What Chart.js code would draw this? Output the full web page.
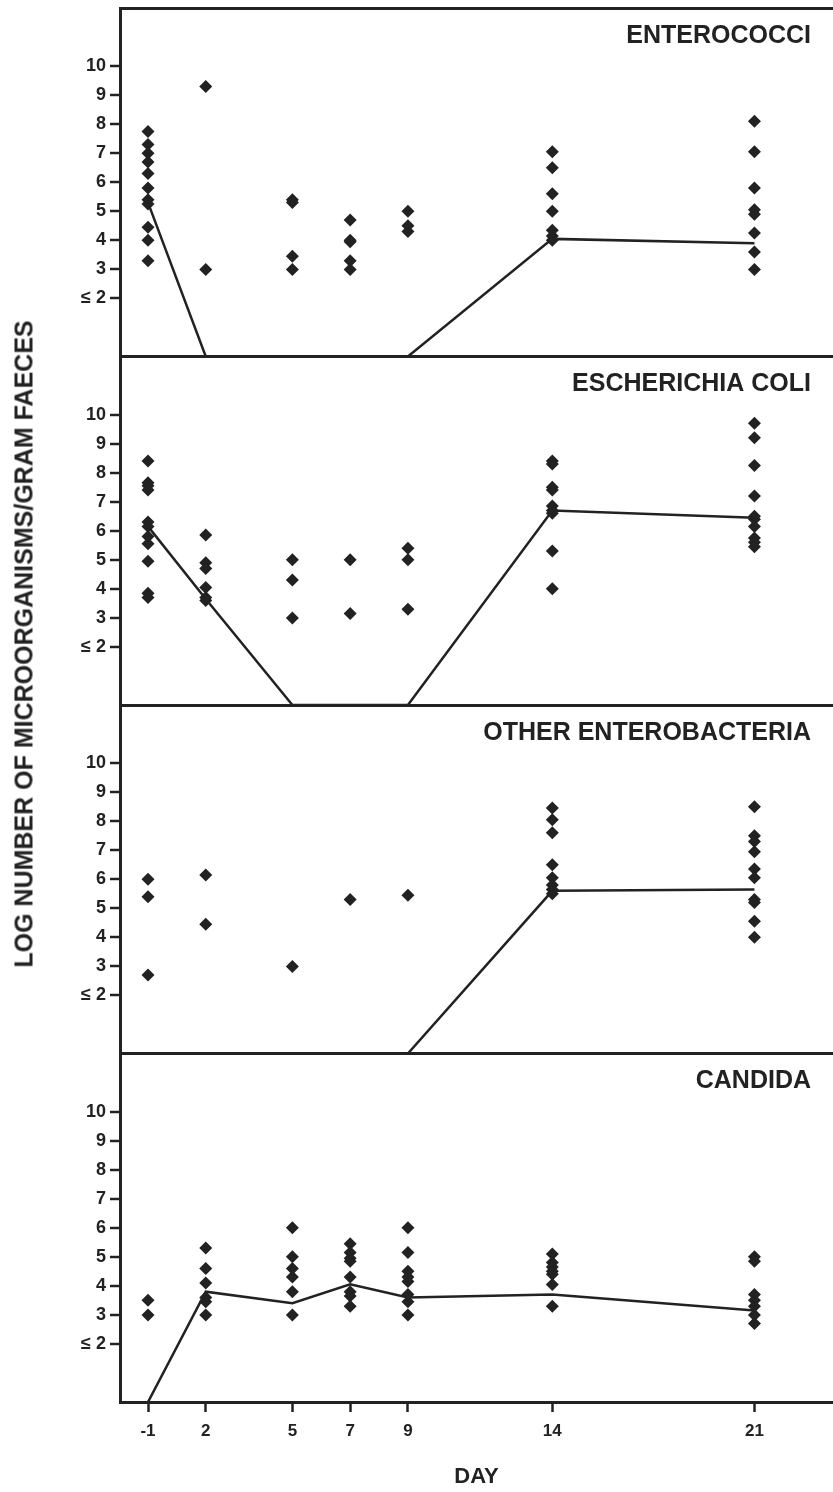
<!DOCTYPE html>
<html>
<head>
<meta charset="utf-8">
<script src="https://cdn.jsdelivr.net/npm/chart.js@4.4.1/dist/chart.umd.min.js"></script>
<style>
  body { margin: 0; background: #fff; }
  #wrap { position: relative; width: 833px; height: 1492px; }
  #ytitle {
    position: absolute; left: 24px; top: 644px;
    transform: translate(-50%, -50%) rotate(-90deg);
    white-space: nowrap;
    font: bold 25px "Liberation Sans", Arial, sans-serif;
    color: #222;
  }
</style>
</head>
<body>
<div id="wrap">
  <canvas id="chart" width="833" height="1492"></canvas>
  <div id="ytitle">LOG NUMBER OF MICROORGANISMS/GRAM FAECES</div>
</div>
<script>
// days: "-1" sits where day 0 would be on the axis
const dayLabels = ['-1', '2', '5', '7', '9', '14', '21']
const dayX = [0, 2, 5, 7, 9, 14, 21]
const yTicks = [0, 2, 3, 4, 5, 6, 7, 8, 9, 10, 12]

// panel names, top to bottom
const panels = ['ENTEROCOCCI', 'ESCHERICHIA COLI', 'OTHER ENTEROBACTERIA', 'CANDIDA']

// individual values per day (log counts)
const enteroPoints = [
  [7.75, 7.3, 7.0, 6.7, 6.3, 5.8, 5.4, 5.25, 4.45, 4.0, 3.3],
  [9.3, 3.0],
  [5.4, 5.3, 3.45, 3.0],
  [4.7, 4.0, 3.95, 3.3, 3.0],
  [5.0, 4.5, 4.3],
  [7.05, 6.5, 5.6, 5.0, 4.35, 4.15, 4.0],
  [8.1, 7.05, 5.8, 5.05, 4.9, 4.25, 3.6, 3.0]
]
const coliPoints = [
  [8.4, 7.65, 7.55, 7.4, 6.3, 6.15, 5.8, 5.55, 4.95, 3.85, 3.7],
  [5.85, 4.9, 4.7, 4.05, 3.7, 3.6],
  [5.0, 4.3, 3.0],
  [5.0, 3.15],
  [5.4, 5.0, 3.3],
  [8.4, 8.3, 7.5, 7.4, 6.85, 6.7, 6.6, 5.3, 4.0],
  [9.7, 9.2, 8.25, 7.2, 6.5, 6.4, 6.15, 5.75, 5.6, 5.45]
]
const otherPoints = [
  [6.0, 5.4, 2.7],
  [6.15, 4.45],
  [3.0],
  [5.3],
  [5.45],
  [8.45, 8.05, 7.6, 6.5, 6.05, 5.8, 5.65, 5.5],
  [8.5, 7.5, 7.3, 6.95, 6.35, 6.05, 5.3, 5.2, 4.55, 4.0]
]
const candidaPoints = [
  [3.5, 3.0],
  [5.3, 4.6, 4.1, 3.6, 3.45, 3.0],
  [6.0, 5.0, 4.6, 4.3, 3.8, 3.0],
  [5.45, 5.15, 4.95, 4.85, 4.3, 3.8, 3.65, 3.3],
  [6.0, 5.15, 4.5, 4.3, 4.15, 3.7, 3.45, 3.0],
  [5.1, 4.8, 4.65, 4.5, 4.4, 4.05, 3.3],
  [5.0, 4.85, 3.7, 3.5, 3.3, 3.0, 2.7]
]

// median line per day (0 = below detection, drawn on the panel floor)
const enteroMedian = [5.3, 0, 0, 0, 0, 4.05, 3.9]
const coliMedian = [6.15, 3.65, 0, 0, 0, 6.7, 6.45]
const otherMedian = [0, 0, 0, 0, 0, 5.6, 5.65]
const candidaMedian = [0, 3.8, 3.4, 4.05, 3.6, 3.7, 3.15]

const ink = '#222'
const fontFamily = '"Liberation Sans", Arial, sans-serif'

function toPoints(perDay) {
  const out = []
  perDay.forEach((vals, i) => vals.forEach(v => out.push({x: dayX[i], y: v})))
  return out
}

function panelDatasets(points, median, axis) {
  return [
    {
      type: 'line',
      data: median.map((v, i) => ({x: dayX[i], y: v})),
      yAxisID: axis,
      borderColor: ink,
      borderWidth: 2.5,
      pointRadius: 0,
      tension: 0
    },
    {
      type: 'scatter',
      data: toPoints(points),
      yAxisID: axis,
      pointStyle: 'rectRot',
      pointRadius: 6.5,
      backgroundColor: ink,
      borderColor: ink,
      borderWidth: 0
    }
  ]
}

function yScale() {
  const edge = v => v === 0 || v === 12
  return {
    type: 'linear',
    position: 'left',
    stack: 'panels',
    stackWeight: 1,
    min: 0,
    max: 12,
    afterBuildTicks: s => { s.ticks = yTicks.map(v => ({value: v})) },
    afterFit: s => { s.width = 120; s.paddingTop = 0; s.paddingBottom = 0 },
    border: {display: true, color: ink, width: 3},
    grid: {
      color: c => edge(c.tick.value) ? ink : 'rgba(0,0,0,0)',
      lineWidth: c => edge(c.tick.value) ? 3 : 0,
      tickColor: c => edge(c.tick.value) ? 'rgba(0,0,0,0)' : ink,
      tickWidth: 2.5,
      tickLength: 10
    },
    ticks: {
      color: ink,
      padding: 4,
      autoSkip: false,
      font: {family: fontFamily, size: 18, weight: 'bold'},
      callback: v => edge(v) ? '' : (v === 2 ? '≤ 2' : String(v))
    }
  }
}

// panel names written inside each panel, top right
const panelTitles = {
  id: 'panelTitles',
  afterDatasetsDraw(chart) {
    const ctx = chart.ctx
    const ids = ['yEntero', 'yColi', 'yOther', 'yCandida']
    ctx.save()
    ctx.fillStyle = ink
    ctx.font = 'bold 25px ' + fontFamily
    ctx.textAlign = 'right'
    ctx.textBaseline = 'middle'
    ids.forEach((id, i) => {
      const s = chart.scales[id]
      ctx.fillText(panels[i], chart.chartArea.right - 22, s.top + 28)
    })
    ctx.restore()
  }
}

new Chart('chart', {
  data: {
    datasets: [
      ...panelDatasets(candidaPoints, candidaMedian, 'yCandida'),
      ...panelDatasets(otherPoints, otherMedian, 'yOther'),
      ...panelDatasets(coliPoints, coliMedian, 'yColi'),
      ...panelDatasets(enteroPoints, enteroMedian, 'yEntero')
    ]
  },
  options: {
    responsive: false,
    animation: false,
    layout: {autoPadding: false, padding: {top: 8, left: 0, right: 0, bottom: 0}},
    plugins: {legend: {display: false}, tooltip: {enabled: false}},
    scales: {
      x: {
        type: 'linear',
        min: -0.97,
        max: 23.72,
        afterBuildTicks: s => { s.ticks = dayX.map(v => ({value: v})) },
        afterFit: s => { s.height = 90; s.paddingRight = 0; s.paddingLeft = 0 },
        border: {display: true, color: ink, width: 3},
        grid: {drawOnChartArea: false, color: ink, tickLength: 10, tickWidth: 2.5},
        ticks: {
          color: ink,
          padding: 9,
          autoSkip: false,
          maxRotation: 0,
          font: {family: fontFamily, size: 17, weight: 'bold'},
          callback: v => dayLabels[dayX.indexOf(v)]
        },
        title: {
          display: true,
          text: 'DAY',
          color: ink,
          padding: {top: 0, bottom: 2},
          font: {family: fontFamily, size: 22, weight: 'bold'}
        }
      },
      yCandida: yScale(),
      yOther: yScale(),
      yColi: yScale(),
      yEntero: yScale()
    }
  },
  plugins: [panelTitles]
})
</script>
</body>
</html>
